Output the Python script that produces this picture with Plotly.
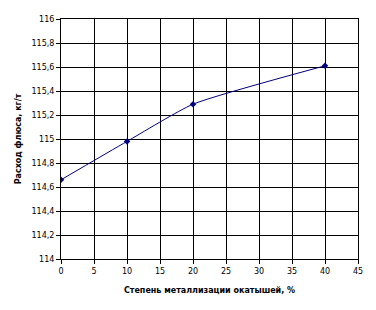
import plotly.graph_objects as go

x_vals = [0, 10, 20, 40]
y_vals = [114.66, 114.98, 115.29, 115.61]
x_ticks = [0, 5, 10, 15, 20, 25, 30, 35, 40, 45]
y_ticks = [114, 114.2, 114.4, 114.6, 114.8, 115, 115.2, 115.4, 115.6, 115.8, 116]

fig = go.Figure()
fig.add_trace(go.Scatter(
    x=x_vals, y=y_vals, mode="lines+markers",
    line=dict(color="#000080", width=1, shape="spline", smoothing=0.5),
    marker=dict(symbol="diamond", size=5, color="#000080"),
    showlegend=False,
))

font_family = "DejaVu Sans, Verdana, sans-serif"
fig.update_layout(
    width=376, height=310,
    margin=dict(l=61, r=18, t=19, b=51),
    paper_bgcolor="white", plot_bgcolor="white",
    separators=", ",
    font=dict(family=font_family, size=8, color="black"),
    xaxis=dict(
        range=[0, 45], tickvals=x_ticks, showgrid=True, gridcolor="black", gridwidth=1,
        zeroline=False, showline=True, linecolor="black", linewidth=1, mirror=True,
        ticks="outside", ticklen=4, tickcolor="black",
        title=dict(text="<b>Степень металлизации окатышей, %</b>", font=dict(size=8), standoff=12),
    ),
    yaxis=dict(
        range=[114, 116], tickvals=y_ticks, showgrid=True, gridcolor="black", gridwidth=1,
        zeroline=False, showline=True, linecolor="black", linewidth=1, mirror=True,
        ticks="outside", ticklen=4, tickcolor="black",
        title=dict(text="<b>Расход флюса, кг/т</b>", font=dict(size=8), standoff=8),
    ),
)
fig.write_html("out.html")
